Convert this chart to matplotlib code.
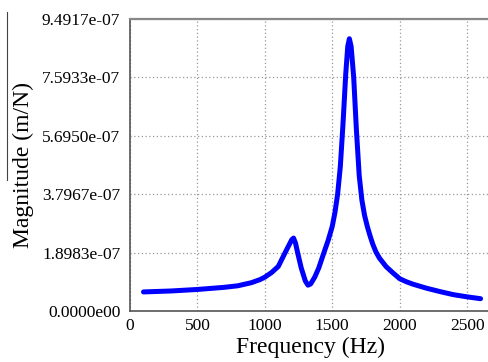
# Frequency response magnitude plot

import numpy as np
import matplotlib.pyplot as plt
from matplotlib.lines import Line2D

# Data
freq = [100, 300, 500, 700, 800, 900, 964, 1000, 1050, 1100, 1151, 1180,
        1200, 1213, 1228, 1243, 1270, 1300, 1320, 1340, 1370, 1400, 1437,
        1470, 1500, 1520, 1540, 1560, 1580, 1600, 1615, 1627, 1640, 1659,
        1679, 1700, 1720, 1740, 1760, 1780, 1800, 1824, 1850, 1900, 1950,
        2000, 2050, 2100, 2200, 2300, 2400, 2500, 2600]
mag_e7 = [0.62, 0.65, 0.70, 0.77, 0.82, 0.92, 1.02, 1.10, 1.25, 1.45, 1.90, 2.15,
          2.32, 2.37, 2.20, 1.90, 1.40, 0.98, 0.84, 0.88, 1.10, 1.40, 1.88,
          2.30, 2.75, 3.20, 3.80, 4.70, 6.10, 7.70, 8.60, 8.85, 8.60, 7.60,
          5.90, 4.40, 3.60, 3.10, 2.75, 2.45, 2.18, 1.92, 1.72, 1.44, 1.24,
          1.05, 0.95, 0.87, 0.74, 0.63, 0.53, 0.46, 0.40]
ymax = 9.4917e-07
yticks = [0.0, 1.8983e-07, 3.7967e-07, 5.6950e-07, 7.5933e-07, 9.4917e-07]
ytick_labels = ["0.0000e00", "1.8983e-07", "3.7967e-07", "5.6950e-07",
                "7.5933e-07", "9.4917e-07"]
xticks = [0, 500, 1000, 1500, 2000, 2500]


def main():
    plt.rcParams['font.family'] = ['Liberation Serif', 'DejaVu Serif']

    W, H = 488, 362
    fig = plt.figure(figsize=(W / 100, H / 100), dpi=100)
    ax = fig.add_axes([130 / W, 1 - 311 / H, 360 / W, 292 / H])

    mag = np.array(mag_e7) * 1e-7
    ax.plot(freq, mag, color="#0000ff", linewidth=3.6,
            solid_joinstyle="round", solid_capstyle="round")

    ax.set_xlim(0, 2670)
    ax.set_ylim(0, ymax)
    ax.set_xticks(xticks)
    ax.set_yticks(yticks)
    ax.set_yticklabels(ytick_labels)
    ax.tick_params(length=0, labelsize=12.5, colors="black")
    ax.tick_params(axis="x", pad=5)
    ax.tick_params(axis="y", pad=7)

    ax.grid(True, linestyle=(0, (1, 2)), color="#999999", linewidth=0.9)

    ax.spines["right"].set_visible(False)
    ax.spines["left"].set_color("#555555")
    ax.spines["bottom"].set_color("#555555")
    ax.spines["top"].set_color("#888888")
    ax.spines["top"].set_linewidth(1.6)
    for s in ("left", "bottom"):
        ax.spines[s].set_linewidth(1.2)

    ax.set_xlabel("Frequency (Hz)", fontsize=17, labelpad=2)
    ax.set_ylabel("Magnitude (m/N)", fontsize=17, labelpad=6)

    # Thin crop edge on the far left
    fig.add_artist(Line2D([7 / W, 7 / W], [1 - 12 / H, 1 - 180 / H],
                          color="#444444", linewidth=0.8))

    fig.savefig("out.png", dpi=100)


if __name__ == "__main__":
    main()
